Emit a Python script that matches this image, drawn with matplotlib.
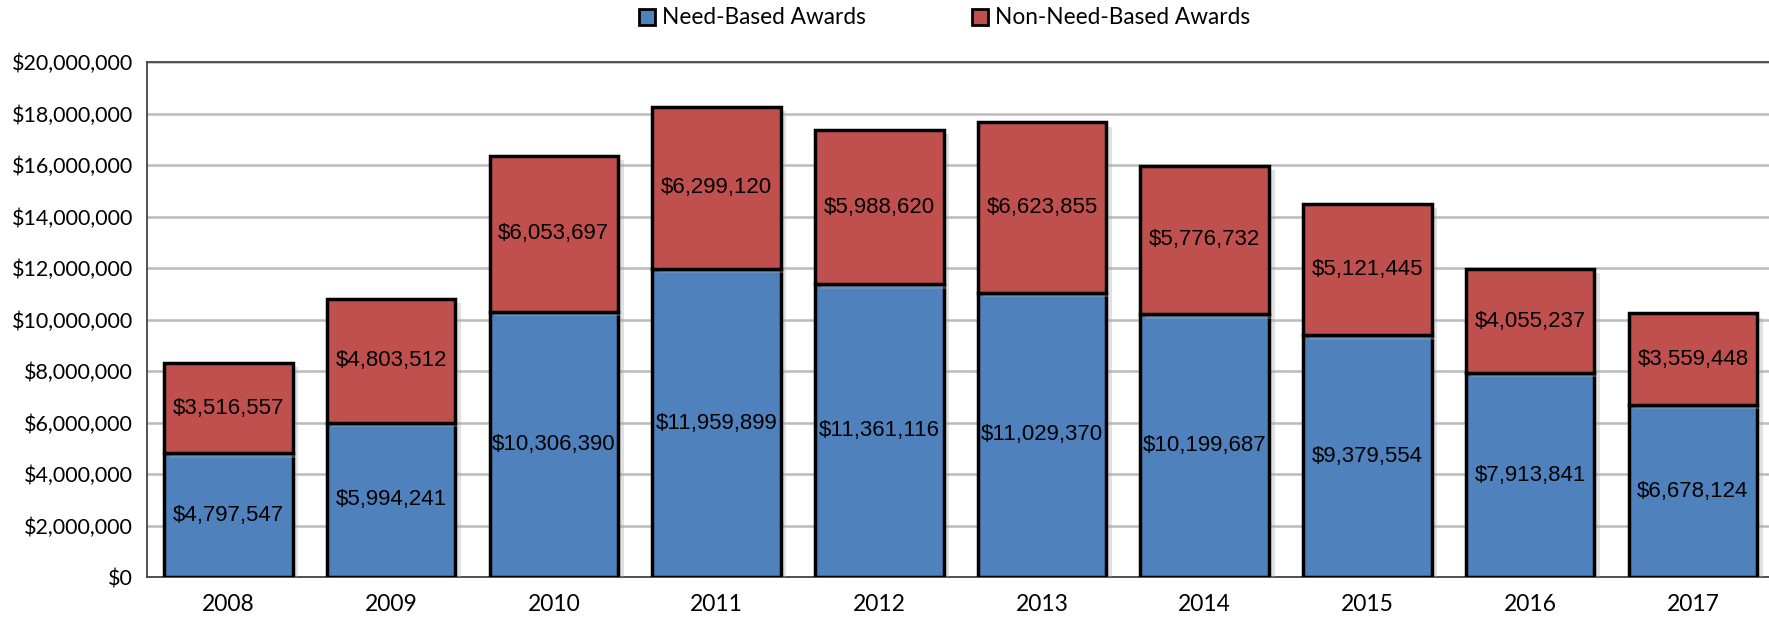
import matplotlib
matplotlib.use("Agg")
import matplotlib.pyplot as plt
import matplotlib.patheffects as pe
from matplotlib.ticker import FuncFormatter, MultipleLocator
from matplotlib.patches import Patch

years = ["2008", "2009", "2010", "2011", "2012", "2013", "2014", "2015", "2016", "2017"]
need_based = [4797547, 5994241, 10306390, 11959899, 11361116, 11029370, 10199687, 9379554, 7913841, 6678124]
non_need_based = [3516557, 4803512, 6053697, 6299120, 5988620, 6623855, 5776732, 5121445, 4055237, 3559448]

blue = "#4F81BD"
red = "#C0504D"

fig = plt.figure(figsize=(17.69, 6.18), dpi=100)
ax = fig.add_axes([147/1769, 1 - 577/618, 1 - 147/1769 + 0.003, (577 - 62)/618])

x = list(range(len(years)))
shadow = [pe.SimplePatchShadow(offset=(4, -3), shadow_rgbFace="#AAAAAA", alpha=0.35), pe.Normal()]
b1 = ax.bar(x, need_based, width=0.79, color=blue, edgecolor="black", linewidth=2.5, zorder=3)
b2 = ax.bar(x, non_need_based, width=0.79, bottom=need_based, color=red, edgecolor="black", linewidth=2.5, zorder=3)
for bars in (b1, b2):
    for p in bars:
        p.set_path_effects(shadow)

lab_font = dict(family=["Liberation Sans", "DejaVu Sans"], fontsize=16, color="black", zorder=5)
for i in x:
    ax.text(i, need_based[i] / 2, f"${need_based[i]:,}", ha="center", va="center", **lab_font)
    ax.text(i, need_based[i] + non_need_based[i] / 2, f"${non_need_based[i]:,}", ha="center", va="center", **lab_font)

ax.set_xlim(-0.5, len(years) - 0.5)
ax.set_ylim(0, 20000000)
ax.yaxis.set_major_locator(MultipleLocator(2000000))
ax.yaxis.set_major_formatter(FuncFormatter(lambda v, p: f"${v:,.0f}"))
ax.set_xticks(x)
ax.set_xticklabels(years)
ax.grid(axis="y", color="#BBBBBB", linewidth=1.8, zorder=0)
ax.set_axisbelow(True)
ax.tick_params(axis="x", length=0, pad=12, labelsize=16.5)
ax.tick_params(axis="y", length=0, pad=10, labelsize=15.5)
for lbl in ax.get_xticklabels() + ax.get_yticklabels():
    lbl.set_fontfamily(["Lato", "DejaVu Sans"])
for s in ["left", "top", "bottom", "right"]:
    ax.spines[s].set_color("#444444")
    ax.spines[s].set_linewidth(1.3)

handles = [Patch(facecolor=blue, edgecolor="black", linewidth=2, label="Need-Based Awards"),
           Patch(facecolor=red, edgecolor="black", linewidth=2, label="Non-Need-Based Awards")]
fig.legend(handles=handles, loc="center", bbox_to_anchor=(0.534, 1 - 18/618), ncol=2, frameon=False,
           prop={"family": ["Lato", "DejaVu Sans"], "size": 16.3}, handlelength=0.7, handleheight=0.7,
           handletextpad=0.3, columnspacing=4.7, borderpad=0)

fig.savefig("out.png", dpi=100)
